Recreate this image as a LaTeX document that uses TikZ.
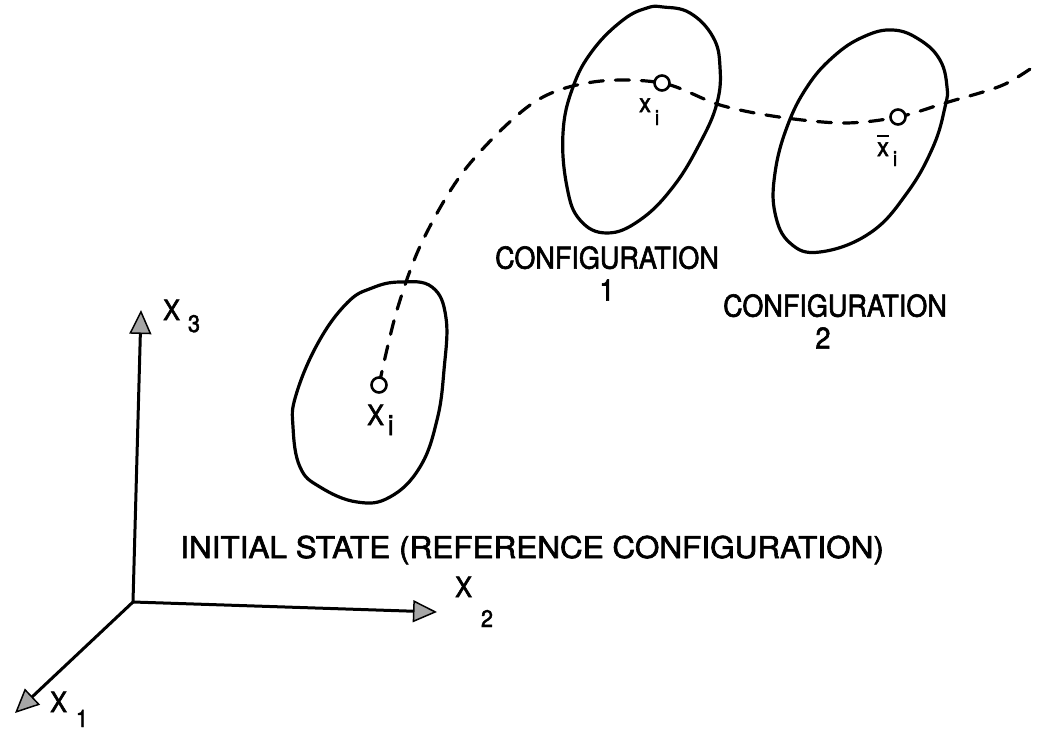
\documentclass[tikz,border=0pt]{standalone}
\usepackage{fontspec}
\usepackage{graphicx}
\usetikzlibrary{arrows.meta}
\newfontfamily\lab[FakeStretch=0.9,FakeBold=2]{TeX Gyre Heros}
\newfontfamily\labw[FakeBold=2]{TeX Gyre Heros}
\pgfdeclarelayer{bg}
\pgfsetlayers{bg,main}
\begin{document}
\begin{tikzpicture}[x=1pt,y=-1pt,
  axis/.style={line width=3pt, -{Triangle[length=24pt,width=22pt,fill=gray!70,line width=1.5pt]}},
  blob/.style={line width=3.2pt, line join=round},
  track/.style={line width=3.2pt, line cap=round, dash pattern=on 14pt off 12pt},
  pt/.style={circle, draw, line width=2.6pt, fill=white, inner sep=0pt, minimum size=15pt},
  lab/.style={font=\lab\fontsize{28}{28}\selectfont, inner sep=0pt},
  conf/.style={font=\lab\fontsize{30}{32}\selectfont, inner sep=0pt, align=center}]
\useasboundingbox (0,0) rectangle (1037,736);
% axes
\coordinate (O) at (133,602);
\coordinate (e3) at (141,310);
\coordinate (e2) at (437,612);
\coordinate (e1) at (15,713);
\draw[axis] (O) -- (e3);
\draw[axis] (O) -- (e2);
\draw[axis] (O) -- (e1);
\node[lab, anchor=base west] (lX3) at (163,320) {X\kern8pt\raisebox{-12pt}{\fontsize{24}{24}\selectfont 3}};
\node[lab, anchor=base west] (lX2) at (455,597) {X\kern9pt\raisebox{-30pt}{\fontsize{24}{24}\selectfont 2}};
\node[lab, anchor=base west] (lX1) at (50,712) {X\kern9pt\raisebox{-15pt}{\fontsize{24}{24}\selectfont 1}};
% bodies
\draw[blob] plot[smooth cycle, tension=0.7] coordinates {(400,282) (432,287) (446,318) (444,370) (437,420) (420,467) (390,497) (357,502) (320,487) (300,467) (293,427) (296,395) (318,343) (347,303) (372,288)};
\draw[blob] plot[smooth cycle, tension=0.7] coordinates {(663,7) (690,13) (713,37) (720,67) (717,103) (700,143) (673,187) (640,220) (607,233) (580,220) (567,187) (563,133) (573,87) (593,50) (623,20) (647,8)};
\draw[blob] plot[smooth cycle, tension=0.7] coordinates {(893,30) (920,40) (940,60) (947,87) (945,107) (933,147) (907,193) (870,233) (820,252) (790,243) (775,213) (775,173) (787,127) (807,87) (833,57) (863,37)};
% material point
\node[pt] (p0) at (379,385) {};
\node[pt] (p1) at (662,83) {};
\node[pt] (p2) at (898,117) {};
\coordinate (pend) at (1040,62);
\begin{pgfonlayer}{bg}
\draw[track] plot[smooth, tension=0.55] coordinates {(p0.center) (397,310) (423,240) (467,167) (533,103) (593,82) (p1.center) (720,105) (779,117) (844,123) (p2.center) (945,103) (1003,85) (pend)};
\end{pgfonlayer}
\node[lab, anchor=base west] (lXi) at (367,425) {X\kern4pt\raisebox{-10pt}{i}};
\node[lab, anchor=base west] (lx1) at (639,112) {\fontsize{26}{26}\selectfont x\kern4pt\raisebox{-13pt}{\fontsize{21}{21}\selectfont i}};
\node[lab, anchor=base west] (lx2) at (877,156) {\fontsize{26}{26}\selectfont \rlap{\raisebox{19pt}{\rule{12pt}{2.5pt}}}x\kern4pt\raisebox{-10pt}{\fontsize{21}{21}\selectfont i}};
% captions
\node[conf, anchor=north] (c1) at (607,246) {CONFIGURATION\\1};
\node[conf, anchor=north] (c2) at (835,294) {CONFIGURATION\\2\hspace*{24pt}};
\node[font=\labw\fontsize{30}{32}\selectfont, inner sep=0pt, anchor=base west] (init) at (180,558) {\scalebox{1.05}[1]{INITIAL STATE (REFERENCE CONFIGURATION)}};
\end{tikzpicture}
\end{document}
